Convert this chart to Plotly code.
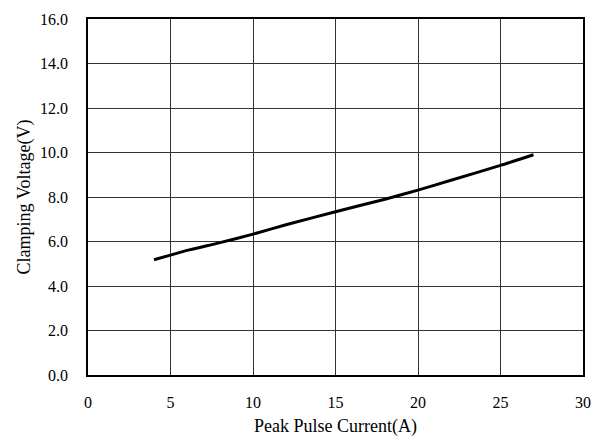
import plotly.graph_objects as go

# Clamping voltage vs. peak pulse current
current_a = [4, 5, 6, 8, 10, 12, 15, 18, 20, 22, 25, 27]
clamp_v = [5.18, 5.39, 5.6, 5.95, 6.33, 6.75, 7.34, 7.9, 8.31, 8.75, 9.42, 9.9]

x_ticks = [0, 5, 10, 15, 20, 25, 30]
y_ticks = [0, 2, 4, 6, 8, 10, 12, 14, 16]
y_tick_text = [f"{v:.1f}" for v in y_ticks]

serif = "Liberation Serif, Times New Roman, serif"

fig = go.Figure()
fig.add_trace(go.Scatter(
    x=current_a, y=clamp_v, mode="lines",
    line=dict(color="black", width=3, shape="spline", smoothing=0.6),
    showlegend=False,
))

fig.update_layout(
    width=603, height=444,
    margin=dict(l=88, r=20, t=11, b=69),
    paper_bgcolor="white", plot_bgcolor="white",
    font=dict(family=serif, size=16, color="black"),
    xaxis=dict(
        range=[0, 30], tickvals=x_ticks, ticks="", ticklabelstandoff=12,
        tickfont=dict(family=serif, size=16),
        showgrid=True, gridcolor="#333333", gridwidth=1,
        showline=True, linecolor="black", linewidth=1.5, mirror=True,
        zeroline=False,
        title=dict(text="Peak Pulse Current(A)", font=dict(family=serif, size=18), standoff=9),
    ),
    yaxis=dict(
        range=[0, 16], tickvals=y_ticks, ticktext=y_tick_text, ticks="",
        ticklabelstandoff=15, tickfont=dict(family=serif, size=16),
        showgrid=True, gridcolor="#333333", gridwidth=1,
        showline=True, linecolor="black", linewidth=1.5, mirror=True,
        zeroline=False,
        title=dict(text="Clamping Voltage(V)", font=dict(family=serif, size=18), standoff=5),
    ),
)

fig.write_html("out.html")
